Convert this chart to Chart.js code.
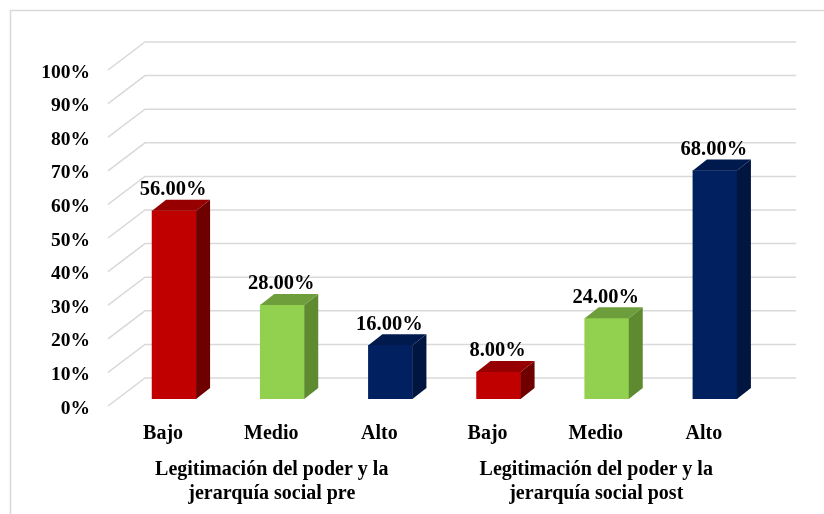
<!DOCTYPE html>
<html>
<head>
<meta charset="utf-8">
<script src="https://cdn.jsdelivr.net/npm/chart.js@4.4.1/dist/chart.umd.min.js"></script>
<style>
  body { margin: 0; background: #fff; }
</style>
</head>
<body>
<canvas id="chart" width="824" height="514"></canvas>
<script>
// datos
const categories = ['Bajo', 'Medio', 'Alto', 'Bajo', 'Medio', 'Alto'];
const groupLabels = ['', ['Legitimación del poder y la', 'jerarquía social pre'], '', '', ['Legitimación del poder y la', 'jerarquía social post'], ''];
const values = [56, 28, 16, 8, 24, 68];
const yTicks = [0, 10, 20, 30, 40, 50, 60, 70, 80, 90, 100];

// colores: frente, arriba, lado
const frontColors = ['#C00000', '#92D050', '#002060', '#C00000', '#92D050', '#002060'];
const topColors = ['#960000', '#6E9E3C', '#001A4E', '#960000', '#6E9E3C', '#001A4E'];
const sideColors = ['#6E0000', '#5E8A30', '#001540', '#6E0000', '#5E8A30', '#001540'];

const FONT = "'Liberation Serif', 'Times New Roman', serif";
const DEPTH_X = 14, DEPTH_Y = 11;

// borde del gráfico
const frame = {
    id: 'frame',
    beforeDraw(chart) {
        const ctx = chart.ctx;
        ctx.save();
        ctx.fillStyle = '#fff';
        ctx.fillRect(0, 0, chart.width, chart.height);
        ctx.strokeStyle = '#D9D9D9';
        ctx.lineWidth = 1.5;
        ctx.strokeRect(10.5, 10.5, 900, 600);
        ctx.restore();
    }
};

// cuadrícula en perspectiva
const grid3d = {
    id: 'grid3d',
    beforeDatasetsDraw(chart) {
        const ctx = chart.ctx;
        const y = chart.scales.y;
        const area = chart.chartArea;
        ctx.save();
        ctx.strokeStyle = '#D9D9D9';
        ctx.lineWidth = 1.5;
        y.ticks.forEach(t => {
            const yb = y.getPixelForValue(t.value) - 21;
            ctx.beginPath();
            ctx.moveTo(area.left - 12, yb + 28);
            ctx.lineTo(area.left + 25, yb);
            ctx.lineTo(area.right + 27, yb);
            ctx.stroke();
        });
        ctx.restore();
    }
};

// caras laterales, superiores y etiquetas
const bars3d = {
    id: 'bars3d',
    afterDatasetsDraw(chart) {
        const ctx = chart.ctx;
        const meta = chart.getDatasetMeta(0);
        ctx.save();
        meta.data.forEach((bar, i) => {
            const left = bar.x - bar.width / 2;
            const right = bar.x + bar.width / 2;
            const top = bar.y;
            const base = bar.base;

            // lado
            ctx.fillStyle = sideColors[i];
            ctx.beginPath();
            ctx.moveTo(right, top);
            ctx.lineTo(right + DEPTH_X, top - DEPTH_Y);
            ctx.lineTo(right + DEPTH_X, base - DEPTH_Y);
            ctx.lineTo(right, base);
            ctx.closePath();
            ctx.fill();

            // arriba
            ctx.fillStyle = topColors[i];
            ctx.beginPath();
            ctx.moveTo(left, top);
            ctx.lineTo(left + DEPTH_X, top - DEPTH_Y);
            ctx.lineTo(right + DEPTH_X, top - DEPTH_Y);
            ctx.lineTo(right, top);
            ctx.closePath();
            ctx.fill();

            // etiqueta
            ctx.fillStyle = '#000';
            ctx.font = 'bold 20.5px ' + FONT;
            ctx.textAlign = 'center';
            ctx.textBaseline = 'middle';
            ctx.fillText(values[i].toFixed(2) + '%', bar.x - 1, top - 21);
        });
        ctx.restore();
    }
};

new Chart(document.getElementById('chart'), {
    type: 'bar',
    data: {
        labels: categories,
        datasets: [{
            data: values,
            backgroundColor: frontColors,
            borderWidth: 0,
            barThickness: 44
        }]
    },
    options: {
        responsive: false,
        animation: false,
        layout: { padding: { left: 10, right: 55, top: 63, bottom: 5 } },
        plugins: {
            legend: { display: false },
            tooltip: { enabled: false }
        },
        scales: {
            x: {
                grid: { display: false, drawTicks: false },
                border: { display: false },
                ticks: {
                    color: '#000',
                    font: { family: FONT, size: 20, weight: 'bold' },
                    padding: 23,
                    labelOffset: -11,
                    maxRotation: 0,
                    autoSkip: false
                },
                afterFit: s => { s.height = 45; }
            },
            x2: {
                type: 'category',
                position: 'bottom',
                labels: groupLabels,
                offset: true,
                grid: { display: false, drawTicks: false },
                border: { display: false },
                ticks: {
                    color: '#000',
                    font: { family: FONT, size: 20, weight: 'bold', lineHeight: 1.2 },
                    padding: 14,
                    labelOffset: -10.5,
                    maxRotation: 0,
                    minRotation: 0,
                    autoSkip: false
                },
                afterFit: s => { s.height = 65; }
            },
            y: {
                min: 0,
                max: 100,
                afterBuildTicks: s => { s.ticks = yTicks.map(v => ({ value: v })); },
                grid: { display: false, drawTicks: false },
                border: { display: false },
                ticks: {
                    color: '#000',
                    font: { family: FONT, size: 19.5, weight: 'bold' },
                    padding: 30,
                    labelOffset: 9.5,
                    callback: v => v + '%'
                },
                afterFit: s => { s.width = 110; }
            }
        }
    },
    plugins: [frame, grid3d, bars3d]
});
</script>
</body>
</html>
